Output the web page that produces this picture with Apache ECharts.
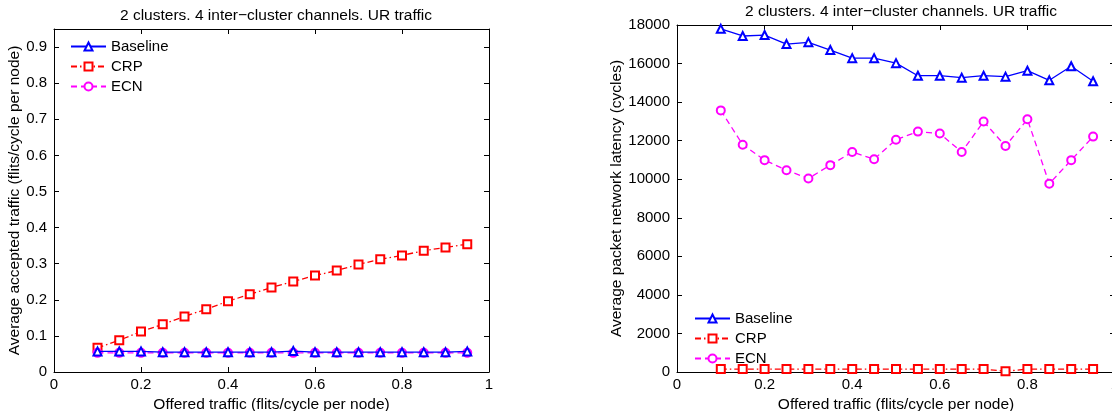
<!DOCTYPE html>
<html><head><meta charset="utf-8">
<script src="https://cdn.jsdelivr.net/npm/echarts@6/dist/echarts.min.js"></script>
<style>html,body{margin:0;padding:0;background:#fff}#c{width:1112px;height:411px}</style>
</head><body><div id="c"></div>
<script>
const titleText = '2 clusters. 4 inter\u2212cluster channels. UR traffic';
const xLabel = 'Offered traffic (flits/cycle per node)';
const yLabelLeft = 'Average accepted traffic (flits/cycle per node)';
const yLabelRight = 'Average packet network latency (cycles)';
const seriesNames = ['Baseline', 'CRP', 'ECN'];
const offered = [0.1,0.15,0.2,0.25,0.3,0.35,0.4,0.45,0.5,0.55,0.6,0.65,0.7,0.75,0.8,0.85,0.9,0.95];
// Left: accepted traffic
const accBaseline = [0.057,0.057,0.057,0.055,0.055,0.055,0.055,0.055,0.055,0.058,0.055,0.055,0.055,0.055,0.055,0.055,0.055,0.057];
const accCRP = [0.067,0.088,0.112,0.132,0.154,0.174,0.196,0.215,0.234,0.251,0.267,0.281,0.298,0.312,0.323,0.336,0.345,0.354];
const accECN = [0.053,0.053,0.053,0.053,0.053,0.053,0.053,0.053,0.053,0.053,0.053,0.053,0.053,0.053,0.053,0.053,0.053,0.053];
// Right: latency
const latBaseline = [17800,17430,17480,17010,17100,16700,16280,16280,16020,15370,15370,15270,15370,15320,15630,15130,15860,15080];
const latCRP = [150,150,150,150,150,150,150,150,150,150,150,150,150,40,150,150,150,150];
const latECN = [13570,11790,10990,10470,10040,10730,11410,11040,12050,12470,12370,11410,12990,11720,13110,9770,10990,12210];

const FONT = 'Liberation Sans, Arial, Helvetica, sans-serif';
const styles = {
  Baseline: {color:'#0000ff', symbol:'emptyTriangle', size:8, type:'solid'},
  CRP: {color:'#ff0000', symbol:'emptyRect', size:8, type:[6,3,1.5,3]},
  ECN: {color:'#ff00ff', symbol:'emptyCircle', size:8, type:[6,4]}
};
function pairs(ys){ return offered.map((x,i)=>[x, ys[i]]); }
function mkSeries(name, ys, idx){
  const s = styles[name];
  return {name, type:'line', xAxisIndex:idx, yAxisIndex:idx, data:pairs(ys),
    symbol:s.symbol, symbolSize:s.size, showAllSymbol:true,
    lineStyle:{color:s.color, width:1.3, type:s.type},
    itemStyle:{color:s.color, borderColor:s.color, borderWidth:1.3},
    emphasis:{disabled:true}, animation:false, z:name==='CRP'?3:(name==='ECN'?4:5)};
}
const axCommon = {axisLine:{show:true, onZero:false, lineStyle:{color:'#000', width:1}},
  axisTick:{show:true, inside:true, length:5, lineStyle:{color:'#000'}},
  splitLine:{show:false}};
function xAx(grid, pos, showLabels){
  return Object.assign({}, axCommon, {type:'value', gridIndex:grid, position:pos, min:0, max:1, interval:0.2,
    axisLabel:{show:showLabels, color:'#000', fontFamily:FONT, fontSize:15, margin:5,
      formatter:v=> (v===0||v===1)? String(v) : v.toFixed(1)},
    name: showLabels? xLabel : '', nameLocation:'middle', nameGap:22,
    nameTextStyle:{color:'#000', fontFamily:FONT, fontSize:15.5}});
}
function yAx(grid, pos, showLabels, max, interval, name, gap, fmt){
  return Object.assign({}, axCommon, {type:'value', gridIndex:grid, position:pos, min:0, max:max, interval:interval,
    axisLabel:{show:showLabels, color:'#000', fontFamily:FONT, fontSize:15, margin:7, showMaxLabel: max===18000, formatter:fmt},
    name: showLabels? name : '', nameLocation:'middle', nameGap:gap, nameRotate:90,
    nameTextStyle:{color:'#000', fontFamily:FONT, fontSize:15.5}});
}
const legendCommon = {data:seriesNames, orient:'vertical', itemWidth:35, itemHeight:10, itemGap:5,
  textStyle:{fontFamily:FONT, fontSize:15, lineHeight:15, color:'#000'}, selectedMode:false};
const chart = echarts.init(document.getElementById('c'), null, {renderer:'canvas'});
chart.setOption({
  backgroundColor:'#fff',
  animation:false,
  title:[
    {text:titleText, left:271, top:3, textAlign:'center', textStyle:{fontFamily:FONT, fontSize:15.5, fontWeight:'normal', color:'#000'}},
    {text:titleText, left:896, top:-1, textAlign:'center', textStyle:{fontFamily:FONT, fontSize:15.5, fontWeight:'normal', color:'#000'}}
  ],
  legend:[
    Object.assign({left:65, top:34}, legendCommon),
    Object.assign({left:689, top:306}, legendCommon)
  ],
  grid:[
    {left:54, top:29, width:435, height:343, outerBoundsMode:'none', containLabel:false},
    {left:677, top:25, width:438, height:347, outerBoundsMode:'none', containLabel:false}
  ],
  xAxis:[ xAx(0,'bottom',true), xAx(1,'bottom',true), xAx(0,'top',false), xAx(1,'top',false) ],
  yAxis:[
    yAx(0,'left',true,0.95,0.1,yLabelLeft,28, v=> v===0?'0':v.toFixed(1)),
    yAx(1,'left',true,18000,2000,yLabelRight,51, v=>String(v)),
    yAx(0,'right',false,0.95,0.1,'',0),
    yAx(1,'right',false,18000,2000,'',0)
  ],
  series:[
    mkSeries('Baseline', accBaseline, 0),
    mkSeries('CRP', accCRP, 0),
    mkSeries('ECN', accECN, 0),
    mkSeries('Baseline', latBaseline, 1),
    mkSeries('CRP', latCRP, 1),
    mkSeries('ECN', latECN, 1)
  ]
});
</script></body></html>
